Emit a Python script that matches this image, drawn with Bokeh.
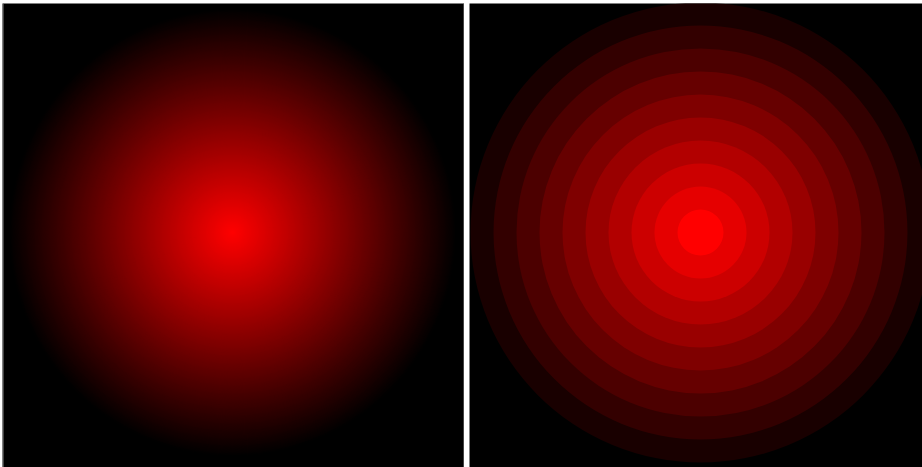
import numpy as np
from bokeh.plotting import figure
from bokeh.layouts import row
from bokeh.models import Range1d, Span, ColumnDataSource
from bokeh.embed import file_html
from bokeh.resources import INLINE

# ---- data ----
# left panel: smooth radial gradient, stops (radius in px, red channel)
left_stop_radius = [0, 225]
left_stop_red = [255, 0]
left_center = (230, 229)

# right panel: stepped concentric rings (outer -> inner)
ring_radius = [230, 207, 184, 161, 138, 115, 92, 69, 46, 23]
ring_red = [25, 51, 76, 102, 127, 153, 178, 204, 229, 255]
right_center = (231, 229)

LW, RW, H = 462, 453, 464


def make_fig(w, h):
    p = figure(width=w, height=h, output_backend="svg", toolbar_location=None,
               x_range=Range1d(0, w), y_range=Range1d(h, 0),
               min_border=0, background_fill_color="black",
               border_fill_color="black", outline_line_color=None)
    p.axis.visible = False
    p.grid.visible = False
    return p


# left figure
pl = make_fig(LW, H)
rad = np.arange(left_stop_radius[-1], 0, -1.0)
reds = np.interp(rad, left_stop_radius, left_stop_red)
cols = ["#%02x0000" % int(round(v)) for v in reds]
src_l = ColumnDataSource(dict(x=[left_center[0]] * len(rad), y=[left_center[1]] * len(rad),
                              r=rad, c=cols))
pl.circle(x="x", y="y", radius="r", fill_color="c", line_color=None, source=src_l)
for loc in (0.5, LW - 0.5):
    pl.add_layout(Span(location=loc, dimension="height", line_color="#888888", line_width=1))

# right figure
pr = make_fig(RW, H)
rcols = ["#%02x0000" % v for v in ring_red]
src_r = ColumnDataSource(dict(x=[right_center[0]] * len(ring_radius),
                              y=[right_center[1]] * len(ring_radius),
                              r=ring_radius, c=rcols))
pr.circle(x="x", y="y", radius="r", fill_color="c", line_color=None, source=src_r)

layout = row(pl, pr, spacing=5,
             styles={"margin-left": "2px", "margin-top": "3px"})

open("out.html", "w").write(file_html(layout, INLINE))
